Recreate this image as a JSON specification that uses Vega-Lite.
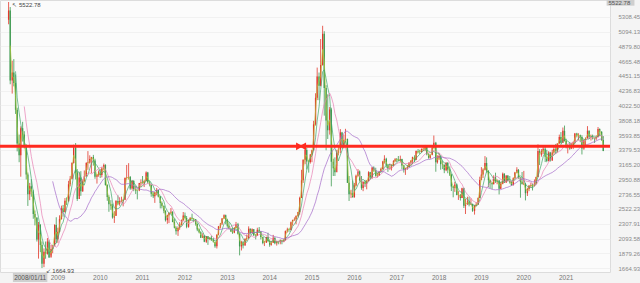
{
  "$schema": "https://vega.github.io/schema/vega-lite/v6.json",
  "width": 610,
  "height": 272,
  "autosize": {"type": "none"},
  "padding": {"left": 0, "top": 0, "right": 30, "bottom": 11},
  "background": "#f4f4f4",
  "config": {"view": {"fill": "#fbfbfb", "stroke": "#dcdcdc"}, "font": "Liberation Sans", "axis": {"labelOverlap": false, "labelBound": false, "labelFlush": false}, "axisY": {"labelOverlap": false}, "axisRight": {"labelOverlap": false}},
  "datasets": {
    "k": [
      {"t":"2008-01-08","o":5265,"h":5522.78,"l":5200,"c":5400},
      {"t":"2008-01-22","o":5400,"h":5450,"l":4330,"c":4383},
      {"t":"2008-02-08","o":4383,"h":4672,"l":4195,"c":4500},
      {"t":"2008-02-22","o":4500,"h":4695,"l":4300,"c":4348},
      {"t":"2008-03-08","o":4348,"h":4472,"l":3900,"c":3960},
      {"t":"2008-03-22","o":3960,"h":3990,"l":3357,"c":3472},
      {"t":"2008-04-08","o":3472,"h":3600,"l":3200,"c":3300},
      {"t":"2008-04-22","o":3300,"h":3720,"l":2990,"c":3693},
      {"t":"2008-05-08","o":3693,"h":3786,"l":3500,"c":3600},
      {"t":"2008-05-22","o":3600,"h":3650,"l":3400,"c":3433},
      {"t":"2008-06-08","o":3433,"h":3460,"l":2950,"c":3020},
      {"t":"2008-06-22","o":3020,"h":3050,"l":2566,"c":2736},
      {"t":"2008-07-08","o":2736,"h":2900,"l":2650,"c":2850},
      {"t":"2008-07-22","o":2850,"h":2952,"l":2700,"c":2775},
      {"t":"2008-08-08","o":2775,"h":2800,"l":2380,"c":2450},
      {"t":"2008-08-22","o":2450,"h":2500,"l":2284,"c":2397},
      {"t":"2008-09-08","o":2397,"h":2400,"l":2050,"c":2079},
      {"t":"2008-09-22","o":2079,"h":2333,"l":1802,"c":2293},
      {"t":"2008-10-08","o":2293,"h":2300,"l":1895,"c":2000},
      {"t":"2008-10-22","o":2000,"h":2050,"l":1664.93,"c":1729},
      {"t":"2008-11-08","o":1729,"h":1950,"l":1678,"c":1900},
      {"t":"2008-11-22","o":1900,"h":2050,"l":1800,"c":1871},
      {"t":"2008-12-08","o":1871,"h":2100,"l":1860,"c":2050},
      {"t":"2008-12-22","o":2050,"h":2075,"l":1814,"c":1820},
      {"t":"2009-01-08","o":1820,"h":2000,"l":1849,"c":1940},
      {"t":"2009-01-22","o":1940,"h":2000,"l":1880,"c":1990},
      {"t":"2009-02-08","o":1990,"h":2300,"l":1980,"c":2290},
      {"t":"2009-02-22","o":2290,"h":2402,"l":2037,"c":2082},
      {"t":"2009-03-08","o":2082,"h":2250,"l":2030,"c":2190},
      {"t":"2009-03-22","o":2190,"h":2430,"l":2180,"c":2373},
      {"t":"2009-04-08","o":2373,"h":2570,"l":2370,"c":2530},
      {"t":"2009-04-22","o":2530,"h":2580,"l":2410,"c":2478},
      {"t":"2009-05-08","o":2478,"h":2680,"l":2470,"c":2640},
      {"t":"2009-05-22","o":2640,"h":2690,"l":2580,"c":2632},
      {"t":"2009-06-08","o":2632,"h":2930,"l":2630,"c":2880},
      {"t":"2009-06-22","o":2880,"h":3000,"l":2850,"c":2959},
      {"t":"2009-07-08","o":2959,"h":3200,"l":2950,"c":3190},
      {"t":"2009-07-22","o":3190,"h":3454,"l":3180,"c":3412},
      {"t":"2009-08-08","o":3412,"h":3478,"l":2950,"c":3050},
      {"t":"2009-08-22","o":3050,"h":3100,"l":2639,"c":2667},
      {"t":"2009-09-08","o":2667,"h":3050,"l":2710,"c":2980},
      {"t":"2009-09-22","o":2980,"h":3070,"l":2712,"c":2779},
      {"t":"2009-10-08","o":2779,"h":2950,"l":2770,"c":2920},
      {"t":"2009-10-22","o":2920,"h":3080,"l":2920,"c":2996},
      {"t":"2009-11-08","o":2996,"h":3200,"l":2990,"c":3190},
      {"t":"2009-11-22","o":3190,"h":3361,"l":3090,"c":3195},
      {"t":"2009-12-08","o":3195,"h":3300,"l":3180,"c":3247},
      {"t":"2009-12-22","o":3247,"h":3260,"l":3040,"c":3277},
      {"t":"2010-01-08","o":3277,"h":3306,"l":3150,"c":3224},
      {"t":"2010-01-22","o":3224,"h":3250,"l":2960,"c":2989},
      {"t":"2010-02-08","o":2989,"h":3030,"l":2890,"c":3018},
      {"t":"2010-02-22","o":3018,"h":3080,"l":2990,"c":3051},
      {"t":"2010-03-08","o":3051,"h":3100,"l":2970,"c":3013},
      {"t":"2010-03-22","o":3013,"h":3130,"l":2980,"c":3109},
      {"t":"2010-04-08","o":3109,"h":3181,"l":3080,"c":3160},
      {"t":"2010-04-22","o":3160,"h":3170,"l":2860,"c":2870},
      {"t":"2010-05-08","o":2870,"h":2880,"l":2640,"c":2697},
      {"t":"2010-05-22","o":2697,"h":2720,"l":2481,"c":2592},
      {"t":"2010-06-08","o":2592,"h":2650,"l":2510,"c":2569},
      {"t":"2010-06-22","o":2569,"h":2600,"l":2382,"c":2398},
      {"t":"2010-07-08","o":2398,"h":2490,"l":2319,"c":2425},
      {"t":"2010-07-22","o":2425,"h":2650,"l":2420,"c":2638},
      {"t":"2010-08-08","o":2638,"h":2720,"l":2580,"c":2600},
      {"t":"2010-08-22","o":2600,"h":2690,"l":2570,"c":2638},
      {"t":"2010-09-08","o":2638,"h":2700,"l":2620,"c":2640},
      {"t":"2010-09-22","o":2640,"h":2660,"l":2560,"c":2655},
      {"t":"2010-10-08","o":2655,"h":2980,"l":2650,"c":2972},
      {"t":"2010-10-22","o":2972,"h":3160,"l":2950,"c":2978},
      {"t":"2010-11-08","o":2978,"h":3186,"l":2950,"c":2985},
      {"t":"2010-11-22","o":2985,"h":3000,"l":2800,"c":2820},
      {"t":"2010-12-08","o":2820,"h":2940,"l":2800,"c":2926},
      {"t":"2010-12-22","o":2926,"h":2940,"l":2780,"c":2808},
      {"t":"2011-01-08","o":2808,"h":2860,"l":2740,"c":2791},
      {"t":"2011-01-22","o":2791,"h":2800,"l":2661,"c":2790},
      {"t":"2011-02-08","o":2790,"h":2900,"l":2780,"c":2899},
      {"t":"2011-02-22","o":2899,"h":2950,"l":2840,"c":2905},
      {"t":"2011-03-08","o":2905,"h":3000,"l":2890,"c":2896},
      {"t":"2011-03-22","o":2896,"h":2940,"l":2840,"c":2928},
      {"t":"2011-04-08","o":2928,"h":3067,"l":2920,"c":3050},
      {"t":"2011-04-22","o":3050,"h":3060,"l":2890,"c":2911},
      {"t":"2011-05-08","o":2911,"h":2930,"l":2850,"c":2871},
      {"t":"2011-05-22","o":2871,"h":2880,"l":2700,"c":2743},
      {"t":"2011-06-08","o":2743,"h":2770,"l":2680,"c":2705},
      {"t":"2011-06-22","o":2705,"h":2770,"l":2610,"c":2762},
      {"t":"2011-07-08","o":2762,"h":2826,"l":2720,"c":2796},
      {"t":"2011-07-22","o":2796,"h":2800,"l":2690,"c":2701},
      {"t":"2011-08-08","o":2701,"h":2710,"l":2530,"c":2610},
      {"t":"2011-08-22","o":2610,"h":2630,"l":2530,"c":2567},
      {"t":"2011-09-08","o":2567,"h":2570,"l":2460,"c":2497},
      {"t":"2011-09-22","o":2497,"h":2500,"l":2340,"c":2359},
      {"t":"2011-10-08","o":2359,"h":2440,"l":2307,"c":2431},
      {"t":"2011-10-22","o":2431,"h":2470,"l":2317,"c":2468},
      {"t":"2011-11-08","o":2468,"h":2536,"l":2450,"c":2480},
      {"t":"2011-11-22","o":2480,"h":2490,"l":2330,"c":2333},
      {"t":"2011-12-08","o":2333,"h":2380,"l":2240,"c":2250},
      {"t":"2011-12-22","o":2250,"h":2270,"l":2150,"c":2199},
      {"t":"2012-01-08","o":2199,"h":2270,"l":2132,"c":2245},
      {"t":"2012-01-22","o":2245,"h":2330,"l":2220,"c":2293},
      {"t":"2012-02-08","o":2293,"h":2370,"l":2280,"c":2357},
      {"t":"2012-02-22","o":2357,"h":2478,"l":2350,"c":2428},
      {"t":"2012-03-08","o":2428,"h":2470,"l":2370,"c":2390},
      {"t":"2012-03-22","o":2390,"h":2420,"l":2242,"c":2263},
      {"t":"2012-04-08","o":2263,"h":2370,"l":2250,"c":2359},
      {"t":"2012-04-22","o":2359,"h":2400,"l":2350,"c":2396},
      {"t":"2012-05-08","o":2396,"h":2453,"l":2370,"c":2380},
      {"t":"2012-05-22","o":2380,"h":2390,"l":2330,"c":2373},
      {"t":"2012-06-08","o":2373,"h":2375,"l":2280,"c":2306},
      {"t":"2012-06-22","o":2306,"h":2310,"l":2200,"c":2225},
      {"t":"2012-07-08","o":2225,"h":2240,"l":2170,"c":2185},
      {"t":"2012-07-22","o":2185,"h":2200,"l":2100,"c":2103},
      {"t":"2012-08-08","o":2103,"h":2170,"l":2100,"c":2133},
      {"t":"2012-08-22","o":2133,"h":2140,"l":2040,"c":2047},
      {"t":"2012-09-08","o":2047,"h":2130,"l":2030,"c":2127},
      {"t":"2012-09-22","o":2127,"h":2130,"l":2001,"c":2086},
      {"t":"2012-10-08","o":2086,"h":2110,"l":2070,"c":2105},
      {"t":"2012-10-22","o":2105,"h":2135,"l":2060,"c":2069},
      {"t":"2012-11-08","o":2069,"h":2100,"l":2040,"c":2040},
      {"t":"2012-11-22","o":2040,"h":2050,"l":1959,"c":1980},
      {"t":"2012-12-08","o":1980,"h":2150,"l":1949,"c":2150},
      {"t":"2012-12-22","o":2150,"h":2276,"l":2140,"c":2269},
      {"t":"2013-01-08","o":2269,"h":2320,"l":2240,"c":2311},
      {"t":"2013-01-22","o":2311,"h":2390,"l":2290,"c":2385},
      {"t":"2013-02-08","o":2385,"h":2444,"l":2380,"c":2432},
      {"t":"2013-02-22","o":2432,"h":2440,"l":2300,"c":2365},
      {"t":"2013-03-08","o":2365,"h":2380,"l":2250,"c":2278},
      {"t":"2013-03-22","o":2278,"h":2330,"l":2230,"c":2237},
      {"t":"2013-04-08","o":2237,"h":2240,"l":2190,"c":2194},
      {"t":"2013-04-22","o":2194,"h":2250,"l":2161,"c":2178},
      {"t":"2013-05-08","o":2178,"h":2260,"l":2170,"c":2246},
      {"t":"2013-05-22","o":2246,"h":2334,"l":2240,"c":2300},
      {"t":"2013-06-08","o":2300,"h":2320,"l":2150,"c":2162},
      {"t":"2013-06-22","o":2162,"h":2170,"l":1849,"c":1979},
      {"t":"2013-07-08","o":1979,"h":2060,"l":1920,"c":2039},
      {"t":"2013-07-22","o":2039,"h":2060,"l":1950,"c":1993},
      {"t":"2013-08-08","o":1993,"h":2100,"l":1990,"c":2085},
      {"t":"2013-08-22","o":2085,"h":2150,"l":2060,"c":2098},
      {"t":"2013-09-08","o":2098,"h":2270,"l":2090,"c":2236},
      {"t":"2013-09-22","o":2236,"h":2240,"l":2150,"c":2174},
      {"t":"2013-10-08","o":2174,"h":2240,"l":2170,"c":2228},
      {"t":"2013-10-22","o":2228,"h":2230,"l":2130,"c":2141},
      {"t":"2013-11-08","o":2141,"h":2160,"l":2080,"c":2135},
      {"t":"2013-11-22","o":2135,"h":2250,"l":2130,"c":2220},
      {"t":"2013-12-08","o":2220,"h":2260,"l":2180,"c":2196},
      {"t":"2013-12-22","o":2196,"h":2200,"l":2080,"c":2116},
      {"t":"2014-01-08","o":2116,"h":2120,"l":2010,"c":2027},
      {"t":"2014-01-22","o":2027,"h":2060,"l":1984,"c":2033},
      {"t":"2014-02-08","o":2033,"h":2120,"l":2030,"c":2115},
      {"t":"2014-02-22","o":2115,"h":2177,"l":2040,"c":2056},
      {"t":"2014-03-08","o":2056,"h":2080,"l":1974,"c":2004},
      {"t":"2014-03-22","o":2004,"h":2060,"l":1990,"c":2033},
      {"t":"2014-04-08","o":2033,"h":2146,"l":2030,"c":2105},
      {"t":"2014-04-22","o":2105,"h":2110,"l":2010,"c":2026},
      {"t":"2014-05-08","o":2026,"h":2060,"l":1991,"c":2052},
      {"t":"2014-05-22","o":2052,"h":2060,"l":2010,"c":2039},
      {"t":"2014-06-08","o":2039,"h":2080,"l":2010,"c":2070},
      {"t":"2014-06-22","o":2070,"h":2075,"l":2010,"c":2048},
      {"t":"2014-07-08","o":2048,"h":2090,"l":2040,"c":2071},
      {"t":"2014-07-22","o":2071,"h":2210,"l":2060,"c":2201},
      {"t":"2014-08-08","o":2201,"h":2250,"l":2180,"c":2226},
      {"t":"2014-08-22","o":2226,"h":2240,"l":2190,"c":2217},
      {"t":"2014-09-08","o":2217,"h":2340,"l":2210,"c":2331},
      {"t":"2014-09-22","o":2331,"h":2365,"l":2280,"c":2364},
      {"t":"2014-10-08","o":2364,"h":2400,"l":2350,"c":2373},
      {"t":"2014-10-22","o":2373,"h":2430,"l":2300,"c":2420},
      {"t":"2014-11-08","o":2420,"h":2480,"l":2400,"c":2478},
      {"t":"2014-11-22","o":2478,"h":2700,"l":2440,"c":2682},
      {"t":"2014-12-08","o":2682,"h":3090,"l":2680,"c":2938},
      {"t":"2014-12-22","o":2938,"h":3240,"l":2900,"c":3234},
      {"t":"2015-01-08","o":3234,"h":3400,"l":3170,"c":3376},
      {"t":"2015-01-22","o":3376,"h":3406,"l":3095,"c":3210},
      {"t":"2015-02-08","o":3210,"h":3230,"l":3049,"c":3203},
      {"t":"2015-02-22","o":3203,"h":3320,"l":3180,"c":3310},
      {"t":"2015-03-08","o":3310,"h":3380,"l":3200,"c":3372},
      {"t":"2015-03-22","o":3372,"h":3800,"l":3370,"c":3748},
      {"t":"2015-04-08","o":3748,"h":4200,"l":3730,"c":4135},
      {"t":"2015-04-22","o":4135,"h":4572,"l":4100,"c":4441},
      {"t":"2015-05-08","o":4441,"h":4500,"l":4099,"c":4308},
      {"t":"2015-05-22","o":4308,"h":4986,"l":4300,"c":4611},
      {"t":"2015-06-08","o":4611,"h":5178,"l":4600,"c":5062},
      {"t":"2015-06-22","o":5062,"h":5100,"l":3875,"c":4277},
      {"t":"2015-07-08","o":4277,"h":4317,"l":3373,"c":3805},
      {"t":"2015-07-22","o":3805,"h":4184,"l":3537,"c":3664},
      {"t":"2015-08-08","o":3664,"h":4000,"l":3600,"c":3965},
      {"t":"2015-08-22","o":3965,"h":3990,"l":2850,"c":3206},
      {"t":"2015-09-08","o":3206,"h":3250,"l":3000,"c":3114},
      {"t":"2015-09-22","o":3114,"h":3270,"l":3000,"c":3053},
      {"t":"2015-10-08","o":3053,"h":3380,"l":3150,"c":3338},
      {"t":"2015-10-22","o":3338,"h":3450,"l":3300,"c":3383},
      {"t":"2015-11-08","o":3383,"h":3680,"l":3330,"c":3632},
      {"t":"2015-11-22","o":3632,"h":3640,"l":3400,"c":3445},
      {"t":"2015-12-08","o":3445,"h":3600,"l":3400,"c":3520},
      {"t":"2015-12-22","o":3520,"h":3684,"l":3500,"c":3539},
      {"t":"2016-01-08","o":3539,"h":3540,"l":2900,"c":2901},
      {"t":"2016-01-22","o":2901,"h":3000,"l":2638,"c":2737},
      {"t":"2016-02-08","o":2737,"h":2800,"l":2680,"c":2746},
      {"t":"2016-02-22","o":2746,"h":2934,"l":2700,"c":2687},
      {"t":"2016-03-08","o":2687,"h":2900,"l":2700,"c":2864},
      {"t":"2016-03-22","o":2864,"h":3020,"l":2850,"c":3003},
      {"t":"2016-04-08","o":3003,"h":3100,"l":2990,"c":3066},
      {"t":"2016-04-22","o":3066,"h":3080,"l":2920,"c":2938},
      {"t":"2016-05-08","o":2938,"h":3000,"l":2800,"c":2827},
      {"t":"2016-05-22","o":2827,"h":2920,"l":2780,"c":2917},
      {"t":"2016-06-08","o":2917,"h":2940,"l":2840,"c":2887},
      {"t":"2016-06-22","o":2887,"h":2940,"l":2807,"c":2930},
      {"t":"2016-07-08","o":2930,"h":3069,"l":2920,"c":3054},
      {"t":"2016-07-22","o":3054,"h":3060,"l":2950,"c":2979},
      {"t":"2016-08-08","o":2979,"h":3130,"l":2960,"c":3125},
      {"t":"2016-08-22","o":3125,"h":3140,"l":3060,"c":3085},
      {"t":"2016-09-08","o":3085,"h":3120,"l":2990,"c":3002},
      {"t":"2016-09-22","o":3002,"h":3050,"l":2980,"c":3005},
      {"t":"2016-10-08","o":3005,"h":3070,"l":3000,"c":3063},
      {"t":"2016-10-22","o":3063,"h":3120,"l":3060,"c":3100},
      {"t":"2016-11-08","o":3100,"h":3220,"l":3090,"c":3210},
      {"t":"2016-11-22","o":3210,"h":3301,"l":3180,"c":3250},
      {"t":"2016-12-08","o":3250,"h":3264,"l":3120,"c":3155},
      {"t":"2016-12-22","o":3155,"h":3160,"l":3060,"c":3104},
      {"t":"2017-01-08","o":3104,"h":3180,"l":3090,"c":3113},
      {"t":"2017-01-22","o":3113,"h":3170,"l":3080,"c":3159},
      {"t":"2017-02-08","o":3159,"h":3230,"l":3140,"c":3217},
      {"t":"2017-02-22","o":3217,"h":3260,"l":3200,"c":3242},
      {"t":"2017-03-08","o":3242,"h":3260,"l":3200,"c":3237},
      {"t":"2017-03-22","o":3237,"h":3290,"l":3220,"c":3223},
      {"t":"2017-04-08","o":3223,"h":3295,"l":3200,"c":3246},
      {"t":"2017-04-22","o":3246,"h":3250,"l":3100,"c":3154},
      {"t":"2017-05-08","o":3154,"h":3160,"l":3050,"c":3090},
      {"t":"2017-05-22","o":3090,"h":3120,"l":3016,"c":3117},
      {"t":"2017-06-08","o":3117,"h":3160,"l":3090,"c":3132},
      {"t":"2017-06-22","o":3132,"h":3200,"l":3120,"c":3192},
      {"t":"2017-07-08","o":3192,"h":3230,"l":3150,"c":3222},
      {"t":"2017-07-22","o":3222,"h":3280,"l":3170,"c":3273},
      {"t":"2017-08-08","o":3273,"h":3300,"l":3200,"c":3237},
      {"t":"2017-08-22","o":3237,"h":3370,"l":3230,"c":3361},
      {"t":"2017-09-08","o":3361,"h":3391,"l":3330,"c":3353},
      {"t":"2017-09-22","o":3353,"h":3380,"l":3320,"c":3349},
      {"t":"2017-10-08","o":3349,"h":3400,"l":3340,"c":3391},
      {"t":"2017-10-22","o":3391,"h":3420,"l":3360,"c":3393},
      {"t":"2017-11-08","o":3393,"h":3450,"l":3360,"c":3430},
      {"t":"2017-11-22","o":3430,"h":3440,"l":3300,"c":3317},
      {"t":"2017-12-08","o":3317,"h":3330,"l":3250,"c":3266},
      {"t":"2017-12-22","o":3266,"h":3310,"l":3250,"c":3307},
      {"t":"2018-01-08","o":3307,"h":3430,"l":3300,"c":3410},
      {"t":"2018-01-22","o":3410,"h":3587,"l":3400,"c":3481},
      {"t":"2018-02-08","o":3481,"h":3495,"l":3062,"c":3199},
      {"t":"2018-02-22","o":3199,"h":3300,"l":3180,"c":3259},
      {"t":"2018-03-08","o":3259,"h":3330,"l":3230,"c":3291},
      {"t":"2018-03-22","o":3291,"h":3300,"l":3091,"c":3169},
      {"t":"2018-04-08","o":3169,"h":3220,"l":3100,"c":3159},
      {"t":"2018-04-22","o":3159,"h":3170,"l":3041,"c":3082},
      {"t":"2018-05-08","o":3082,"h":3200,"l":3070,"c":3192},
      {"t":"2018-05-22","o":3192,"h":3200,"l":3040,"c":3095},
      {"t":"2018-06-08","o":3095,"h":3140,"l":3000,"c":3021},
      {"t":"2018-06-22","o":3021,"h":3030,"l":2782,"c":2847},
      {"t":"2018-07-08","o":2847,"h":2860,"l":2691,"c":2831},
      {"t":"2018-07-22","o":2831,"h":2915,"l":2770,"c":2876},
      {"t":"2018-08-08","o":2876,"h":2890,"l":2720,"c":2723},
      {"t":"2018-08-22","o":2723,"h":2780,"l":2653,"c":2725},
      {"t":"2018-09-08","o":2725,"h":2740,"l":2644,"c":2681},
      {"t":"2018-09-22","o":2681,"h":2830,"l":2680,"c":2821},
      {"t":"2018-10-08","o":2821,"h":2830,"l":2536,"c":2568},
      {"t":"2018-10-22","o":2568,"h":2670,"l":2449,"c":2603},
      {"t":"2018-11-08","o":2603,"h":2700,"l":2580,"c":2631},
      {"t":"2018-11-22","o":2631,"h":2700,"l":2560,"c":2588},
      {"t":"2018-12-08","o":2588,"h":2675,"l":2580,"c":2593},
      {"t":"2018-12-22","o":2593,"h":2600,"l":2480,"c":2494},
      {"t":"2019-01-08","o":2494,"h":2580,"l":2440,"c":2570},
      {"t":"2019-01-22","o":2570,"h":2620,"l":2560,"c":2585},
      {"t":"2019-02-08","o":2585,"h":2690,"l":2580,"c":2682},
      {"t":"2019-02-22","o":2682,"h":2990,"l":2680,"c":2941},
      {"t":"2019-03-08","o":2941,"h":3129,"l":2940,"c":3021},
      {"t":"2019-03-22","o":3021,"h":3110,"l":2970,"c":3091},
      {"t":"2019-04-08","o":3091,"h":3288,"l":3080,"c":3188},
      {"t":"2019-04-22","o":3188,"h":3270,"l":3050,"c":3078},
      {"t":"2019-05-08","o":3078,"h":3080,"l":2838,"c":2939},
      {"t":"2019-05-22","o":2939,"h":2950,"l":2820,"c":2899},
      {"t":"2019-06-08","o":2899,"h":2910,"l":2810,"c":2882},
      {"t":"2019-06-22","o":2882,"h":3010,"l":2880,"c":2979},
      {"t":"2019-07-08","o":2979,"h":3048,"l":2900,"c":2930},
      {"t":"2019-07-22","o":2930,"h":2950,"l":2880,"c":2933},
      {"t":"2019-08-08","o":2933,"h":2940,"l":2733,"c":2815},
      {"t":"2019-08-22","o":2815,"h":2915,"l":2810,"c":2886},
      {"t":"2019-09-08","o":2886,"h":3050,"l":2880,"c":3031},
      {"t":"2019-09-22","o":3031,"h":3040,"l":2900,"c":2905},
      {"t":"2019-10-08","o":2905,"h":3010,"l":2900,"c":3007},
      {"t":"2019-10-22","o":3007,"h":3010,"l":2920,"c":2929},
      {"t":"2019-11-08","o":2929,"h":3000,"l":2890,"c":2909},
      {"t":"2019-11-22","o":2909,"h":2930,"l":2857,"c":2871},
      {"t":"2019-12-08","o":2871,"h":2980,"l":2860,"c":2968},
      {"t":"2019-12-22","o":2968,"h":3060,"l":2960,"c":3050},
      {"t":"2020-01-08","o":3050,"h":3127,"l":3040,"c":3090},
      {"t":"2020-01-22","o":3090,"h":3100,"l":2960,"c":2977},
      {"t":"2020-02-08","o":2977,"h":2980,"l":2685,"c":2917},
      {"t":"2020-02-22","o":2917,"h":3058,"l":2880,"c":2880},
      {"t":"2020-03-08","o":2880,"h":3074,"l":2870,"c":2887},
      {"t":"2020-03-22","o":2887,"h":2900,"l":2646,"c":2750},
      {"t":"2020-04-08","o":2750,"h":2830,"l":2710,"c":2811},
      {"t":"2020-04-22","o":2811,"h":2870,"l":2780,"c":2860},
      {"t":"2020-05-08","o":2860,"h":2900,"l":2830,"c":2868},
      {"t":"2020-05-22","o":2868,"h":2890,"l":2790,"c":2852},
      {"t":"2020-06-08","o":2852,"h":2950,"l":2850,"c":2890},
      {"t":"2020-06-22","o":2890,"h":2990,"l":2880,"c":2985},
      {"t":"2020-07-08","o":2985,"h":3458,"l":2980,"c":3361},
      {"t":"2020-07-22","o":3361,"h":3390,"l":3160,"c":3310},
      {"t":"2020-08-08","o":3310,"h":3390,"l":3280,"c":3360},
      {"t":"2020-08-22","o":3360,"h":3430,"l":3320,"c":3395},
      {"t":"2020-09-08","o":3395,"h":3425,"l":3202,"c":3278},
      {"t":"2020-09-22","o":3278,"h":3380,"l":3200,"c":3218},
      {"t":"2020-10-08","o":3218,"h":3360,"l":3210,"c":3340},
      {"t":"2020-10-22","o":3340,"h":3350,"l":3209,"c":3225},
      {"t":"2020-11-08","o":3225,"h":3380,"l":3220,"c":3339},
      {"t":"2020-11-22","o":3339,"h":3420,"l":3330,"c":3392},
      {"t":"2020-12-08","o":3392,"h":3465,"l":3325,"c":3367},
      {"t":"2020-12-22","o":3367,"h":3474,"l":3340,"c":3473},
      {"t":"2021-01-08","o":3473,"h":3600,"l":3470,"c":3566},
      {"t":"2021-01-22","o":3566,"h":3637,"l":3470,"c":3483},
      {"t":"2021-02-08","o":3483,"h":3703,"l":3480,"c":3655},
      {"t":"2021-02-22","o":3655,"h":3731,"l":3500,"c":3509},
      {"t":"2021-03-08","o":3509,"h":3540,"l":3400,"c":3420},
      {"t":"2021-03-22","o":3420,"h":3460,"l":3328,"c":3441},
      {"t":"2021-04-08","o":3441,"h":3490,"l":3380,"c":3399},
      {"t":"2021-04-22","o":3399,"h":3480,"l":3390,"c":3447},
      {"t":"2021-05-08","o":3447,"h":3500,"l":3390,"c":3490},
      {"t":"2021-05-22","o":3490,"h":3624,"l":3470,"c":3615},
      {"t":"2021-06-08","o":3615,"h":3626,"l":3560,"c":3589},
      {"t":"2021-06-22","o":3589,"h":3620,"l":3520,"c":3591},
      {"t":"2021-07-08","o":3591,"h":3600,"l":3490,"c":3566},
      {"t":"2021-07-22","o":3566,"h":3590,"l":3312,"c":3397},
      {"t":"2021-08-08","o":3397,"h":3530,"l":3380,"c":3517},
      {"t":"2021-08-22","o":3517,"h":3560,"l":3420,"c":3544},
      {"t":"2021-09-08","o":3544,"h":3723,"l":3540,"c":3656},
      {"t":"2021-09-22","o":3656,"h":3660,"l":3540,"c":3568},
      {"t":"2021-10-08","o":3568,"h":3600,"l":3515,"c":3572},
      {"t":"2021-10-22","o":3572,"h":3600,"l":3530,"c":3547},
      {"t":"2021-11-08","o":3547,"h":3560,"l":3480,"c":3539},
      {"t":"2021-11-22","o":3539,"h":3590,"l":3520,"c":3564},
      {"t":"2021-12-08","o":3564,"h":3710,"l":3560,"c":3681},
      {"t":"2021-12-22","o":3681,"h":3690,"l":3580,"c":3640},
      {"t":"2022-01-08","o":3640,"h":3651,"l":3510,"c":3521},
      {"t":"2022-01-22","o":3521,"h":3580,"l":3360,"c":3361}
    ]
  },
  "layer": [
    {
      "data": {"name": "k"},
      "mark": {"type": "rule", "strokeWidth": 0.8},
      "encoding": {
        "x": {"field": "t", "type": "temporal", "title": null,
              "scale": {"domain": ["2007-12-08", "2022-02-06"]},
              "axis": {"orient": "bottom", "format": "%Y", "labelAlign": "left", "labelFontSize": 6.5, "labelColor": "#777777", "labelPadding": 2, "ticks": false, "domain": false, "grid": false, "labelOverlap": false,
                       "values": [{"year": 2009}, {"year": 2010}, {"year": 2011}, {"year": 2012}, {"year": 2013}, {"year": 2014}, {"year": 2015}, {"year": 2016}, {"year": 2017}, {"year": 2018}, {"year": 2019}, {"year": 2020}, {"year": 2021}]}},
        "y": {"field": "l", "type": "quantitative", "title": null,
              "scale": {"domain": [1608, 5552], "nice": false, "zero": false},
              "axis": {"orient": "right", "format": ".2f", "labelFontSize": 6, "labelColor": "#8a8a8a", "labelPadding": 8, "ticks": false, "domain": false, "grid": true, "gridColor": "#ececec", "gridWidth": 0.7, "labelOverlap": false, "labelBound": false, "tickCount": 19,
                       "values": [5308.45, 5094.13, 4879.80, 4665.48, 4451.15, 4236.83, 4022.50, 3808.18, 3593.85, 3379.53, 3165.20, 2950.88, 2736.55, 2522.23, 2307.91, 2093.58, 1879.26, 1664.93]}},
        "y2": {"field": "h"},
        "color": {"condition": {"test": "datum.c >= datum.o", "value": "#e2382c"}, "value": "#3f9a50"}
      }
    },
    {
      "data": {"name": "k"},
      "mark": {"type": "bar", "size": 1.3},
      "encoding": {
        "x": {"field": "t", "type": "temporal", "title": null, "scale": {"domain": ["2007-12-08", "2022-02-06"]}},
        "y": {"field": "o", "type": "quantitative", "title": null, "scale": {"domain": [1608, 5552], "nice": false, "zero": false}},
        "y2": {"field": "c"},
        "color": {"condition": {"test": "datum.c >= datum.o", "value": "#e2382c"}, "value": "#3f9a50"}
      }
    },
    {
      "data": {"name": "k"},
      "transform": [
        {"window": [{"op": "mean", "field": "c", "as": "m"}, {"op": "count", "as": "n"}], "sort": [{"field": "t"}], "frame": [-1, 0]},
        {"filter": "datum.n >= 2"}
      ],
      "mark": {"type": "line", "strokeWidth": 0.7, "color": "#b5c93a"},
      "encoding": {
        "x": {"field": "t", "type": "temporal", "title": null, "scale": {"domain": ["2007-12-08", "2022-02-06"]}},
        "y": {"field": "m", "type": "quantitative", "title": null, "scale": {"domain": [1608, 5552], "nice": false, "zero": false}}
      }
    },
    {
      "data": {"name": "k"},
      "transform": [
        {"window": [{"op": "mean", "field": "c", "as": "m"}, {"op": "count", "as": "n"}], "sort": [{"field": "t"}], "frame": [-4, 0]},
        {"filter": "datum.n >= 5"}
      ],
      "mark": {"type": "line", "strokeWidth": 0.7, "color": "#3fa86a"},
      "encoding": {
        "x": {"field": "t", "type": "temporal", "title": null, "scale": {"domain": ["2007-12-08", "2022-02-06"]}},
        "y": {"field": "m", "type": "quantitative", "title": null, "scale": {"domain": [1608, 5552], "nice": false, "zero": false}}
      }
    },
    {
      "data": {"name": "k"},
      "transform": [
        {"window": [{"op": "mean", "field": "c", "as": "m"}, {"op": "count", "as": "n"}], "sort": [{"field": "t"}], "frame": [-9, 0]},
        {"filter": "datum.n >= 10"}
      ],
      "mark": {"type": "line", "strokeWidth": 0.7, "color": "#e77fb3"},
      "encoding": {
        "x": {"field": "t", "type": "temporal", "title": null, "scale": {"domain": ["2007-12-08", "2022-02-06"]}},
        "y": {"field": "m", "type": "quantitative", "title": null, "scale": {"domain": [1608, 5552], "nice": false, "zero": false}}
      }
    },
    {
      "data": {"name": "k"},
      "transform": [
        {"window": [{"op": "mean", "field": "c", "as": "m"}, {"op": "count", "as": "n"}], "sort": [{"field": "t"}], "frame": [-25, 0]},
        {"filter": "datum.n >= 26"}
      ],
      "mark": {"type": "line", "strokeWidth": 0.7, "color": "#a469c9"},
      "encoding": {
        "x": {"field": "t", "type": "temporal", "title": null, "scale": {"domain": ["2007-12-08", "2022-02-06"]}},
        "y": {"field": "m", "type": "quantitative", "title": null, "scale": {"domain": [1608, 5552], "nice": false, "zero": false}}
      }
    },
    {
      "data": {"values": [{"v": 3430}]},
      "mark": {"type": "rule", "strokeWidth": 3, "color": "#ff2a1f"},
      "encoding": {
        "y": {"field": "v", "type": "quantitative", "title": null, "scale": {"domain": [1608, 5552], "nice": false, "zero": false}}
      }
    },
    {
      "data": {"values": [{"t": "2014-11-20", "v": 3430, "s": "triangle-right"}, {"t": "2014-12-18", "v": 3430, "s": "triangle-left"}]},
      "mark": {"type": "point", "filled": true, "opacity": 1, "color": "#ff2a1f", "size": 60},
      "encoding": {
        "x": {"field": "t", "type": "temporal", "title": null, "scale": {"domain": ["2007-12-08", "2022-02-06"]}},
        "y": {"field": "v", "type": "quantitative", "title": null, "scale": {"domain": [1608, 5552], "nice": false, "zero": false}},
        "shape": {"field": "s", "type": "nominal", "scale": null, "legend": null}
      }
    },
    {
      "data": {"values": [{"t": "2008-01-14", "v": 5522.78, "s": "↖ 5522.78"}, {"t": "2008-10-28", "v": 1664.93, "s": "↙ 1664.93"}]},
      "mark": {"type": "text", "align": "left", "baseline": "middle", "fontSize": 6, "color": "#444444", "dx": 3, "dy": 3},
      "encoding": {
        "x": {"field": "t", "type": "temporal", "title": null, "scale": {"domain": ["2007-12-08", "2022-02-06"]}},
        "y": {"field": "v", "type": "quantitative", "title": null, "scale": {"domain": [1608, 5552], "nice": false, "zero": false}},
        "text": {"field": "s"}
      }
    },
    {
      "data": {"values": [{"t1": "2008-02-14", "t2": "2008-12-07", "v1": 1592, "v2": 1462, "s": "2008/01/11", "tm": "2008-07-12", "vm": 1525}]},
      "layer": [
        {"mark": {"type": "rect", "color": "#cfcfcf"},
         "encoding": {
           "x": {"field": "t1", "type": "temporal", "title": null, "scale": {"domain": ["2007-12-08", "2022-02-06"]}},
           "x2": {"field": "t2"},
           "y": {"field": "v1", "type": "quantitative", "title": null, "scale": {"domain": [1608, 5552], "nice": false, "zero": false}},
           "y2": {"field": "v2"}}},
        {"mark": {"type": "text", "fontSize": 6.5, "color": "#555555", "baseline": "middle"},
         "encoding": {
           "x": {"field": "tm", "type": "temporal", "title": null, "scale": {"domain": ["2007-12-08", "2022-02-06"]}},
           "y": {"field": "vm", "type": "quantitative", "title": null, "scale": {"domain": [1608, 5552], "nice": false, "zero": false}},
           "text": {"field": "s"}}}
      ]
    },
    {
      "data": {"values": [{"t1": "2022-02-20", "t2": "2022-10-18", "v1": 5552, "v2": 5470, "s": "5522.78", "tm": "2022-06-10", "vm": 5515}]},
      "layer": [
        {"mark": {"type": "rect", "color": "#cfcfcf"},
         "encoding": {
           "x": {"field": "t1", "type": "temporal", "title": null, "scale": {"domain": ["2007-12-08", "2022-02-06"]}},
           "x2": {"field": "t2"},
           "y": {"field": "v1", "type": "quantitative", "title": null, "scale": {"domain": [1608, 5552], "nice": false, "zero": false}},
           "y2": {"field": "v2"}}},
        {"mark": {"type": "text", "fontSize": 6, "color": "#555555", "baseline": "middle"},
         "encoding": {
           "x": {"field": "tm", "type": "temporal", "title": null, "scale": {"domain": ["2007-12-08", "2022-02-06"]}},
           "y": {"field": "vm", "type": "quantitative", "title": null, "scale": {"domain": [1608, 5552], "nice": false, "zero": false}},
           "text": {"field": "s"}}}
      ]
    }
  ]
}
